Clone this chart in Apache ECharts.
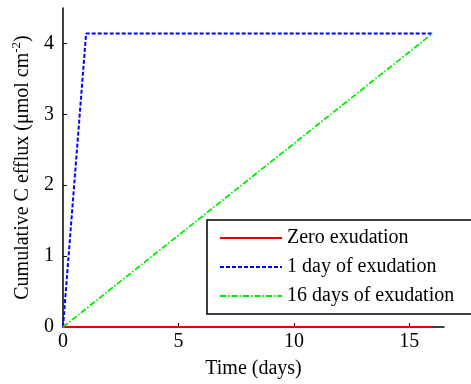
<!DOCTYPE html>
<html><head><meta charset="utf-8">
<script src="https://cdn.jsdelivr.net/npm/echarts@6/dist/echarts.min.js"></script>
<style>html,body{margin:0;padding:0;background:#fff}#c{width:471px;height:384px}</style>
</head><body><div id="c"></div>
<script>
const seriesNames = ['Zero exudation', '1 day of exudation', '16 days of exudation'];
const zeroData = [[0, 0], [16, 0]];
const oneDayData = [[0, 0], [1, 4.14], [16, 4.14]];
const sixteenDayData = [[0, 0], [16, 4.14]];
const xTicks = [0, 5, 10, 15];
const yTicks = [0, 1, 2, 3, 4];

const font = 'Liberation Serif, Times New Roman, serif';
const chart = echarts.init(document.getElementById('c'));
chart.setOption({
  animation: false,
  backgroundColor: '#fff',
  grid: { left: 63, top: 8, right: 27, bottom: 56 },
  xAxis: {
    type: 'value', min: 0, max: 16.5,
    name: 'Time (days)', nameLocation: 'middle', nameGap: 32,
    nameTextStyle: { fontFamily: font, fontSize: 20, color: '#000' },
    axisLine: { lineStyle: { color: '#000', width: 1.5 } },
    axisTick: { inside: true, length: 4, customValues: xTicks, lineStyle: { color: '#000' } },
    axisLabel: { customValues: xTicks, fontFamily: font, fontSize: 20, color: '#000', margin: 5 },
    splitLine: { show: false }
  },
  yAxis: {
    type: 'value', min: 0, max: 4.5,
    name: 'Cumulative C efflux (μmol cm{sup|-2})', nameLocation: 'middle', nameGap: 28,
    nameTextStyle: { fontFamily: font, fontSize: 20, color: '#000',
      rich: { sup: { fontFamily: font, fontSize: 13, color: '#000', padding: [0, 0, 12, 0] } } },
    axisLine: { show: true, lineStyle: { color: '#000', width: 1.5 } },
    axisTick: { show: true, inside: true, length: 4, customValues: yTicks, lineStyle: { color: '#000' } },
    axisLabel: { customValues: yTicks, fontFamily: font, fontSize: 20, color: '#000', margin: 9 },
    splitLine: { show: false }
  },
  legend: {
    orient: 'vertical', left: 207, top: 220,
    padding: [8, 18, 8, 12], itemGap: 9, itemTextGap: 7,
    itemWidth: 62, itemHeight: 14,
    borderColor: '#000', borderWidth: 1.5, backgroundColor: '#fff',
    itemStyle: { opacity: 0 },
    textStyle: { fontFamily: font, fontSize: 20, color: '#000' },
    data: seriesNames
  },
  series: [
    { name: seriesNames[0], type: 'line', data: zeroData, symbol: 'none', z: 3,
      lineStyle: { color: '#e00000', width: 2 }, itemStyle: { color: '#e00000' } },
    { name: seriesNames[1], type: 'line', data: oneDayData, symbol: 'none',
      lineStyle: { color: '#0000ff', width: 2, type: [4, 2] }, itemStyle: { color: '#0000ff' } },
    { name: seriesNames[2], type: 'line', data: sixteenDayData, symbol: 'none',
      lineStyle: { color: '#00ee00', width: 1.8, type: [6, 2, 1.5, 2] }, itemStyle: { color: '#00ee00' } }
  ]
});
</script></body></html>
